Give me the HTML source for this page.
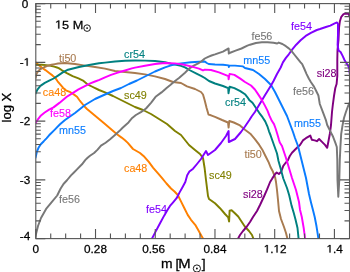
<!DOCTYPE html>
<html><head><meta charset="utf-8"><style>
html,body{margin:0;padding:0;background:#fff;width:350px;height:272px;overflow:hidden}
svg{display:block;will-change:transform;font-family:"Liberation Sans",sans-serif}
</style></head><body>
<svg width="350" height="272" viewBox="0 0 350 272">
<defs><clipPath id="c"><rect x="35.8" y="3.6" width="313.7" height="235.0"/></clipPath></defs>
<g clip-path="url(#c)">
<path d="M35.6,62.2 L38.3,64.8 L41.8,67.5 L45.4,70.1 L48.9,72.8 L52.4,75.4 L55.5,78.1 L57.6,81.3 L60.4,84.6 L63.2,87.9 L65.9,90.3 L69.7,91.8 L74.1,94.6 L77,96.8 L79.3,100 L81,102.2 L85,107 L87,109 L93,114 L99,119 L105,124 L112,130 L117,134.2 L121.6,137.6 L125,140.3 L127.8,142.9 L133,149 L140,153 L144.4,156.8 L148.8,161.9 L153.2,167.8 L157.6,172.9 L162.1,178.1 L166.5,183.5 L171,188.5 L174.5,191.5 L177.8,195 L181.1,201.6 L184.4,208.2 L187.7,214.9 L191,219.8 L195.2,224.8 L198.5,230.6 L201.8,236.4 L203.6,239.5" fill="none" stroke="#ff8000" stroke-width="1.95" stroke-linejoin="round" stroke-linecap="round"/>
<path d="M35.6,64.8 L41.8,64.8 L46.2,65.1 L50.7,65.7 L54.2,66.6 L57,67.5 L58.7,68.1 L62,70.3 L66.8,73.2 L72.6,76.2 L78.5,78.4 L83,80.6 L87.4,84.3 L91.8,86.5 L99,90 L105,92.4 L113,96 L121,100 L129,104 L135,107 L143,110 L151,114 L159,119 L167,124 L175,131 L181,135 L185,140 L189,145 L195,150 L200,154 L203,158 L204.6,168 L206,180 L208,196 L209,199 L215,203.3 L220,208.2 L225,214 L228.2,217.4 L229.1,221.5 L229.6,210.7 L231.6,210.2 L234.9,213.2 L238.2,216.5 L241.5,221.5 L244.8,226.5 L249,231 L252,235 L253.4,238.6" fill="none" stroke="#808000" stroke-width="1.95" stroke-linejoin="round" stroke-linecap="round"/>
<path d="M35.6,78 L36.5,73.7 L38.3,71 L41,68.8 L44.5,67 L48,65.7 L51.5,64.8 L55,64.1 L58,63.5 L65,63 L75,64 L85,65.6 L95,67 L105,68.6 L115,71 L125,72 L135,73 L145,74.4 L155,76.4 L165,79 L173,82 L181,83 L187,86.4 L195,89 L201,92 L203,94.5 L204.6,100 L206.6,108 L208.5,114.6 L211,115.3 L215,116.8 L222.1,120 L228,122.5 L228.6,127.6 L229.3,121 L233.8,122.5 L240,125.4 L245,129.8 L250.3,133.7 L254.7,138.8 L259.1,144.7 L262.8,150.6 L265.7,156.5 L268.7,162.4 L270.5,167 L273,171.8 L275.2,177.6 L276,182 L277,190 L278,200 L279,211 L281,219 L284,227 L286,233 L287.4,238.6" fill="none" stroke="#a87b50" stroke-width="1.95" stroke-linejoin="round" stroke-linecap="round"/>
<path d="M238,238.6 L240,235 L243,231 L246.5,227 L250,222 L253,217 L257,211 L260,205 L264.2,196 L267.1,189.4 L270.1,182 L272.3,178.4 L275.2,174 L276.7,172.5 L278.9,174 L281.1,171.8 L283.3,165.9 L285.5,163 L287.7,160.7 L289.8,156 L292,152.7 L294.7,150 L297.5,147.2 L300,145 L302.9,140.4 L305.9,138.2 L310.3,135.6 L311.8,139.7 L314.7,140.4 L316.9,141.2 L319.1,139 L322,141.9 L325,144.9 L327.2,147.8 L328.5,141 L329.8,134 L331,125 L332,112 L332.8,105 L334,96 L335.3,88 L336.6,84 L337.3,76 L337.3,60 L337.5,50 L338.5,40 L339.1,27 L339.9,21.2 L341.3,16.8 L343.5,14.1 L345.7,13.5 L348.5,13.9 L350,17" fill="none" stroke="#800080" stroke-width="1.95" stroke-linejoin="round" stroke-linecap="round"/>
<path d="M35.6,93.5 L37.4,89.6 L40.4,85.9 L44.8,82.9 L49.2,80.7 L53.6,78.5 L58,75.6 L62.4,72.6 L68,69.7 L79,67 L89,65 L99,63.3 L105,62.6 L115,61.5 L125,60.8 L135,60.5 L145,60.6 L155,61.0 L165,62.3 L171,63.8 L175,64.6 L181,65.8 L185,67.3 L189.4,70 L196,73.4 L201.5,76.1 L204.8,78 L209,81 L215,83.5 L223,86 L228.2,88.1 L228.5,93.3 L229.6,86.7 L234.4,88.1 L240.3,91.1 L245,94.2 L247.5,97.3 L249.2,99.9 L252.5,102.8 L255.5,107.2 L259.2,112.8 L262.5,117.2 L265.2,121.4 L267.4,126.3 L269,131.3 L270.7,135.7 L272.9,142 L274.5,146.5 L277,153.5 L278.5,161 L280.5,168 L283.3,178.5 L287,188 L289.2,195.3 L291.5,205.4 L293.7,212.7 L295.5,219.5 L297.5,228 L298.6,238.6" fill="none" stroke="#008080" stroke-width="1.95" stroke-linejoin="round" stroke-linecap="round"/>
<path d="M35.5,157.8 L37,151.4 L38.5,147.8 L40.8,144.2 L43.8,141.2 L46.5,138.3 L49.1,135.3 L54.3,130.1 L60,124.3 L65,120 L75,113 L85,105 L95,99 L105,94.5 L113,91 L121,88 L129,84 L137,80.5 L145,76.5 L155,71.5 L165,67.4 L170.3,65.6 L175,64.3 L183,63.1 L191,62.2 L199,61.8 L204.8,61.5 L206.8,63 L208.7,64 L215,64.5 L223,64.8 L228.6,65.4 L228.8,67 L229.5,65.6 L235,65.6 L243,66.4 L245,68 L253,70 L259,74 L265,79 L271,85 L275,92 L279,100 L283,108 L287,116 L290,124 L293,132 L295,138 L298,146 L300,154 L302,162 L304,170 L306,178 L307.5,186 L309,194 L311,202.4 L312.9,209.7 L314.7,217 L316.5,226.3 L317.5,232.7 L318.4,238.6" fill="none" stroke="#0a7cff" stroke-width="1.95" stroke-linejoin="round" stroke-linecap="round"/>
<path d="M151.5,239.5 L155.6,231.6 L159.9,223.5 L164.3,215.4 L167.3,210.3 L170,205.9 L172.9,202.6 L176.6,198.2 L179.6,192.4 L182.5,187.2 L185.3,182 L187.2,175.3 L189.4,171.6 L193.1,168.7 L197,164 L201,159 L206,151 L208,155 L215,150 L221,143 L226,136 L228.6,131 L228.8,142 L235,139 L241,132 L245,126.5 L249.4,120 L251.6,116.5 L254.9,112 L258.2,106.5 L261.5,101 L264.8,95.5 L268.2,90 L271,85.5 L273.5,81 L277,74 L280.7,67.5 L282.9,62.4 L285.9,57.9 L288.8,54.3 L292.5,49.1 L296.2,44.7 L300.6,40.3 L305.7,35.9 L310.9,32.9 L316.8,30 L320,29 L325.9,27 L330.3,25.6 L334.7,23.4 L337,22.4 L338,24 L338,34.4 L337.6,45 L337.9,46.6 L338.6,50.6 L340.6,52 L342.6,55.9 L344.5,60 L346.5,63.2 L347.9,65.2 L349.2,67.8 L349.6,73" fill="none" stroke="#8000ff" stroke-width="1.95" stroke-linejoin="round" stroke-linecap="round"/>
<path d="M35,238.4 L36,234 L38,226 L41,218 L46.1,208.9 L51.7,202.2 L57.2,195.5 L60.5,188.8 L63.5,184 L67.2,180 L71,175.4 L74.2,172.2 L76.5,169.8 L82,164.3 L85.4,159.9 L87.6,157.7 L90,155.7 L94.1,153 L97.6,149.6 L101,145.6 L105.6,142.7 L110.1,139.2 L114.7,135.2 L119.3,131.1 L122.6,127.7 L128.5,122.4 L132.2,117.9 L135.9,115 L140.9,112.2 L146,108.5 L151.2,102.6 L155.6,96.8 L161.5,92.4 L166.6,87.9 L170.3,85 L175,81 L179,78 L185,72.8 L189.4,68.4 L193.8,65.6 L198.2,63.4 L201.5,61.2 L204.8,58.5 L208.2,56.8 L211.5,55.5 L215,54.4 L223,51.6 L228.6,48.4 L228.8,53.6 L229.5,53 L235.6,50.7 L241.5,48.5 L247.4,45.6 L250,44.7 L255.9,43 L261.8,42.3 L267.6,42.2 L273.5,42.8 L277.2,43.5 L278.7,42.6 L282.4,44 L285.9,46.2 L288.8,48.4 L291.8,51.3 L294.7,55 L297.6,58.7 L300.6,62.4 L302.2,64.2 L304.4,69 L306.6,74.1 L308.8,78.5 L311,82.2 L314,86.6 L316.2,91 L318.4,95.5 L319.8,104 L322.8,111.8 L325.8,119.8 L327.2,125 L330.1,130.9 L333.1,136.8 L335.3,142.6 L336.8,147 L337.3,160 L337.5,180 L338.3,196.8 L339.3,180 L339.8,160 L340.4,147 L341.2,133.8 L342.6,125 L344,118 L345.9,112 L347.9,106.5 L349.5,103" fill="none" stroke="#787878" stroke-width="1.95" stroke-linejoin="round" stroke-linecap="round"/>
<path d="M35.5,123.2 L38.1,119.1 L41,115.4 L44.7,112.5 L49.1,109.6 L53.5,107.4 L59.4,102.9 L66.8,96.8 L72.6,93.1 L78.5,89.4 L84.4,86.3 L90.3,83.3 L95,81.5 L99.4,79.9 L105,77.3 L111,74.9 L117,72.8 L125,70.5 L131.8,68.4 L135,67.6 L145,65.7 L155,64 L165,63 L175,63.4 L183,64.5 L191,66.4 L199,68.6 L203,70.4 L205,69.6 L211,70 L219,72.4 L228.4,76.2 L228.6,79.3 L229.6,73.9 L234.4,74.9 L240.3,78.6 L245,82 L251,85.5 L254.9,89.5 L258.2,94.4 L261.5,99.4 L264.8,105.4 L267.6,110.9 L269.3,115.4 L271.8,120.8 L274,124.1 L275.6,128.5 L277.3,134 L278.9,139.6 L279.8,142.5 L282,146 L286,158 L289,168 L292,178 L294,184 L296,190 L299,202 L300,209.7 L301.8,217 L303.7,228 L305.1,238.6" fill="none" stroke="#ff00ff" stroke-width="1.95" stroke-linejoin="round" stroke-linecap="round"/>
</g>
<rect x="35.8" y="3.6" width="313.7" height="235.0" fill="none" stroke="#555" stroke-width="1.1"/>
<path d="M35.80 238.6V229.1M35.80 3.6V13.1" stroke="#555" stroke-width="1.1"/>
<path d="M50.73 238.6V233.6M50.73 3.6V8.6" stroke="#555" stroke-width="1.1"/>
<path d="M65.66 238.6V233.6M65.66 3.6V8.6" stroke="#555" stroke-width="1.1"/>
<path d="M80.59 238.6V233.6M80.59 3.6V8.6" stroke="#555" stroke-width="1.1"/>
<path d="M95.52 238.6V229.1M95.52 3.6V13.1" stroke="#555" stroke-width="1.1"/>
<path d="M110.46 238.6V233.6M110.46 3.6V8.6" stroke="#555" stroke-width="1.1"/>
<path d="M125.39 238.6V233.6M125.39 3.6V8.6" stroke="#555" stroke-width="1.1"/>
<path d="M140.32 238.6V233.6M140.32 3.6V8.6" stroke="#555" stroke-width="1.1"/>
<path d="M155.25 238.6V229.1M155.25 3.6V13.1" stroke="#555" stroke-width="1.1"/>
<path d="M170.18 238.6V233.6M170.18 3.6V8.6" stroke="#555" stroke-width="1.1"/>
<path d="M185.11 238.6V233.6M185.11 3.6V8.6" stroke="#555" stroke-width="1.1"/>
<path d="M200.04 238.6V233.6M200.04 3.6V8.6" stroke="#555" stroke-width="1.1"/>
<path d="M214.97 238.6V229.1M214.97 3.6V13.1" stroke="#555" stroke-width="1.1"/>
<path d="M229.90 238.6V233.6M229.90 3.6V8.6" stroke="#555" stroke-width="1.1"/>
<path d="M244.83 238.6V233.6M244.83 3.6V8.6" stroke="#555" stroke-width="1.1"/>
<path d="M259.77 238.6V233.6M259.77 3.6V8.6" stroke="#555" stroke-width="1.1"/>
<path d="M274.70 238.6V229.1M274.70 3.6V13.1" stroke="#555" stroke-width="1.1"/>
<path d="M289.63 238.6V233.6M289.63 3.6V8.6" stroke="#555" stroke-width="1.1"/>
<path d="M304.56 238.6V233.6M304.56 3.6V8.6" stroke="#555" stroke-width="1.1"/>
<path d="M319.49 238.6V233.6M319.49 3.6V8.6" stroke="#555" stroke-width="1.1"/>
<path d="M334.42 238.6V229.1M334.42 3.6V13.1" stroke="#555" stroke-width="1.1"/>
<path d="M35.8 238.60H45.3M349.5 238.60H340.0" stroke="#555" stroke-width="1.1"/>
<path d="M35.8 220.91H40.8M349.5 220.91H344.5" stroke="#555" stroke-width="1.1"/>
<path d="M35.8 210.57H40.8M349.5 210.57H344.5" stroke="#555" stroke-width="1.1"/>
<path d="M35.8 203.23H40.8M349.5 203.23H344.5" stroke="#555" stroke-width="1.1"/>
<path d="M35.8 197.54H40.8M349.5 197.54H344.5" stroke="#555" stroke-width="1.1"/>
<path d="M35.8 192.88H40.8M349.5 192.88H344.5" stroke="#555" stroke-width="1.1"/>
<path d="M35.8 188.95H40.8M349.5 188.95H344.5" stroke="#555" stroke-width="1.1"/>
<path d="M35.8 185.54H40.8M349.5 185.54H344.5" stroke="#555" stroke-width="1.1"/>
<path d="M35.8 182.54H40.8M349.5 182.54H344.5" stroke="#555" stroke-width="1.1"/>
<path d="M35.8 179.85H45.3M349.5 179.85H340.0" stroke="#555" stroke-width="1.1"/>
<path d="M35.8 162.16H40.8M349.5 162.16H344.5" stroke="#555" stroke-width="1.1"/>
<path d="M35.8 151.82H40.8M349.5 151.82H344.5" stroke="#555" stroke-width="1.1"/>
<path d="M35.8 144.48H40.8M349.5 144.48H344.5" stroke="#555" stroke-width="1.1"/>
<path d="M35.8 138.79H40.8M349.5 138.79H344.5" stroke="#555" stroke-width="1.1"/>
<path d="M35.8 134.13H40.8M349.5 134.13H344.5" stroke="#555" stroke-width="1.1"/>
<path d="M35.8 130.20H40.8M349.5 130.20H344.5" stroke="#555" stroke-width="1.1"/>
<path d="M35.8 126.79H40.8M349.5 126.79H344.5" stroke="#555" stroke-width="1.1"/>
<path d="M35.8 123.79H40.8M349.5 123.79H344.5" stroke="#555" stroke-width="1.1"/>
<path d="M35.8 121.10H45.3M349.5 121.10H340.0" stroke="#555" stroke-width="1.1"/>
<path d="M35.8 103.41H40.8M349.5 103.41H344.5" stroke="#555" stroke-width="1.1"/>
<path d="M35.8 93.07H40.8M349.5 93.07H344.5" stroke="#555" stroke-width="1.1"/>
<path d="M35.8 85.73H40.8M349.5 85.73H344.5" stroke="#555" stroke-width="1.1"/>
<path d="M35.8 80.04H40.8M349.5 80.04H344.5" stroke="#555" stroke-width="1.1"/>
<path d="M35.8 75.38H40.8M349.5 75.38H344.5" stroke="#555" stroke-width="1.1"/>
<path d="M35.8 71.45H40.8M349.5 71.45H344.5" stroke="#555" stroke-width="1.1"/>
<path d="M35.8 68.04H40.8M349.5 68.04H344.5" stroke="#555" stroke-width="1.1"/>
<path d="M35.8 65.04H40.8M349.5 65.04H344.5" stroke="#555" stroke-width="1.1"/>
<path d="M35.8 62.35H45.3M349.5 62.35H340.0" stroke="#555" stroke-width="1.1"/>
<path d="M35.8 44.66H40.8M349.5 44.66H344.5" stroke="#555" stroke-width="1.1"/>
<path d="M35.8 34.32H40.8M349.5 34.32H344.5" stroke="#555" stroke-width="1.1"/>
<path d="M35.8 26.98H40.8M349.5 26.98H344.5" stroke="#555" stroke-width="1.1"/>
<path d="M35.8 21.29H40.8M349.5 21.29H344.5" stroke="#555" stroke-width="1.1"/>
<path d="M35.8 16.63H40.8M349.5 16.63H344.5" stroke="#555" stroke-width="1.1"/>
<path d="M35.8 12.70H40.8M349.5 12.70H344.5" stroke="#555" stroke-width="1.1"/>
<path d="M35.8 9.29H40.8M349.5 9.29H344.5" stroke="#555" stroke-width="1.1"/>
<path d="M35.8 6.29H40.8M349.5 6.29H344.5" stroke="#555" stroke-width="1.1"/>
<path d="M35.8 3.60H45.3M349.5 3.60H340.0" stroke="#555" stroke-width="1.1"/>
<text transform="translate(30.2,240.2) scale(1.09,1)" font-size="10.8" text-anchor="end" fill="#000" stroke="#000" stroke-width="0.25">-4</text>
<text transform="translate(30.2,183.75) scale(1.09,1)" font-size="10.8" text-anchor="end" fill="#000" stroke="#000" stroke-width="0.25">-3</text>
<text transform="translate(30.2,124.55) scale(1.09,1)" font-size="10.8" text-anchor="end" fill="#000" stroke="#000" stroke-width="0.25">-2</text>
<g transform="translate(30.2,65.65) scale(1.09,1)"><text x="-9.603" y="0" font-size="10.8" fill="#000" stroke="#000" stroke-width="0.25">-</text><path transform="translate(-6.006,0) scale(0.005273,-0.005273)" d="M515 0V1237L197 1010V1180L530 1409H696V0Z" fill="#000" stroke="#000" stroke-width="47.4"/></g>
<text transform="translate(28.2,8.2) scale(1.09,1)" font-size="10.8" text-anchor="end" fill="#000" stroke="#000" stroke-width="0.25">0</text>
<text transform="translate(35.8,252.5) scale(1.09,1)" font-size="10.8" text-anchor="middle" fill="#000" stroke="#000" stroke-width="0.25">0</text>
<text transform="translate(95.5,252.5) scale(1.09,1)" font-size="10.8" text-anchor="middle" fill="#000" stroke="#000" stroke-width="0.25">0.28</text>
<text transform="translate(153.6,252.5) scale(1.09,1)" font-size="10.8" text-anchor="middle" fill="#000" stroke="#000" stroke-width="0.25">0.56</text>
<text transform="translate(215.0,252.5) scale(1.09,1)" font-size="10.8" text-anchor="middle" fill="#000" stroke="#000" stroke-width="0.25">0.84</text>
<g transform="translate(275.2,252.5) scale(1.09,1)"><path transform="translate(-10.510,0) scale(0.005273,-0.005273)" d="M515 0V1237L197 1010V1180L530 1409H696V0Z" fill="#000" stroke="#000" stroke-width="47.4"/><text x="-4.504" y="0" font-size="10.8" fill="#000" stroke="#000" stroke-width="0.25">.</text><path transform="translate(-1.503,0) scale(0.005273,-0.005273)" d="M515 0V1237L197 1010V1180L530 1409H696V0Z" fill="#000" stroke="#000" stroke-width="47.4"/><text x="4.504" y="0" font-size="10.8" fill="#000" stroke="#000" stroke-width="0.25">2</text></g>
<g transform="translate(334.7,252.5) scale(1.09,1)"><path transform="translate(-7.507,0) scale(0.005273,-0.005273)" d="M515 0V1237L197 1010V1180L530 1409H696V0Z" fill="#000" stroke="#000" stroke-width="47.4"/><text x="-1.500" y="0" font-size="10.8" fill="#000" stroke="#000" stroke-width="0.25">.4</text></g>
<text transform="translate(59,62) scale(0.98,1)" font-size="11" text-anchor="start" fill="#a87b50" stroke="#a87b50" stroke-width="0.12">ti50</text>
<text transform="translate(124,58.4) scale(0.98,1)" font-size="11" text-anchor="start" fill="#008080" stroke="#008080" stroke-width="0.12">cr54</text>
<text transform="translate(243.3,64.4) scale(0.98,1)" font-size="11" text-anchor="start" fill="#0a7cff" stroke="#0a7cff" stroke-width="0.12">mn55</text>
<text transform="translate(251.4,40) scale(0.98,1)" font-size="11" text-anchor="start" fill="#787878" stroke="#787878" stroke-width="0.12">fe56</text>
<text transform="translate(291,30.4) scale(0.98,1)" font-size="11" text-anchor="start" fill="#8000ff" stroke="#8000ff" stroke-width="0.12">fe54</text>
<text transform="translate(316.8,76.8) scale(0.98,1)" font-size="11" text-anchor="start" fill="#800080" stroke="#800080" stroke-width="0.12">si28</text>
<text transform="translate(293,95) scale(0.98,1)" font-size="11" text-anchor="start" fill="#787878" stroke="#787878" stroke-width="0.12">fe56</text>
<text transform="translate(225,106) scale(0.98,1)" font-size="11" text-anchor="start" fill="#008080" stroke="#008080" stroke-width="0.12">cr54</text>
<text transform="translate(294,127) scale(0.98,1)" font-size="11" text-anchor="start" fill="#0a7cff" stroke="#0a7cff" stroke-width="0.12">mn55</text>
<text transform="translate(42.8,96.3) scale(0.98,1)" font-size="11" text-anchor="start" fill="#ff8000" stroke="#ff8000" stroke-width="0.12">ca48</text>
<text transform="translate(50,116.5) scale(0.98,1)" font-size="11" text-anchor="start" fill="#ff00ff" stroke="#ff00ff" stroke-width="0.12">fe58</text>
<text transform="translate(59,133.6) scale(0.98,1)" font-size="11" text-anchor="start" fill="#0a7cff" stroke="#0a7cff" stroke-width="0.12">mn55</text>
<text transform="translate(124,99) scale(0.98,1)" font-size="11" text-anchor="start" fill="#808000" stroke="#808000" stroke-width="0.12">sc49</text>
<text transform="translate(244.4,158) scale(0.98,1)" font-size="11" text-anchor="start" fill="#a87b50" stroke="#a87b50" stroke-width="0.12">ti50</text>
<text transform="translate(124,172) scale(0.98,1)" font-size="11" text-anchor="start" fill="#ff8000" stroke="#ff8000" stroke-width="0.12">ca48</text>
<text transform="translate(209,179) scale(0.98,1)" font-size="11" text-anchor="start" fill="#808000" stroke="#808000" stroke-width="0.12">sc49</text>
<text transform="translate(243,198.4) scale(0.98,1)" font-size="11" text-anchor="start" fill="#800080" stroke="#800080" stroke-width="0.12">si28</text>
<text transform="translate(59,203) scale(0.98,1)" font-size="11" text-anchor="start" fill="#787878" stroke="#787878" stroke-width="0.12">fe56</text>
<text transform="translate(146,213) scale(0.98,1)" font-size="11" text-anchor="start" fill="#8000ff" stroke="#8000ff" stroke-width="0.12">fe54</text>
<g transform="translate(55.0,28.6) scale(1.08,1)"><path transform="translate(0.000,0) scale(0.005762,-0.005762)" d="M515 0V1237L197 1010V1180L530 1409H696V0Z" fill="#000" stroke="#000" stroke-width="43.4"/><text x="6.563" y="0" font-size="11.8" fill="#000" stroke="#000" stroke-width="0.25">5 M</text></g>
<circle cx="87.1" cy="28.1" r="3.3" fill="none" stroke="#000" stroke-width="0.9"/><circle cx="87.1" cy="28.1" r="0.9" fill="#000"/>
<text transform="translate(11.0,122.5) rotate(-90) scale(1.09,1)" font-size="12" text-anchor="start" fill="#000" stroke="#000" stroke-width="0.25">log X</text>
<text transform="translate(161.0,267.9) scale(1.13,1)" font-size="12.3" text-anchor="start" fill="#000" stroke="#000" stroke-width="0.25">m</text>
<text transform="translate(175.6,267.9) scale(1.13,1)" font-size="12.3" text-anchor="start" fill="#000" stroke="#000" stroke-width="0.25">[</text>
<text transform="translate(178.3,267.9) scale(1.21,1)" font-size="12.3" text-anchor="start" fill="#000" stroke="#000" stroke-width="0.25">M</text>
<circle cx="196.9" cy="268.5" r="3.6" fill="none" stroke="#000" stroke-width="0.9"/><circle cx="196.9" cy="268.5" r="0.9" fill="#000"/>
<text transform="translate(201.7,267.9) scale(1.13,1)" font-size="12.3" text-anchor="start" fill="#000" stroke="#000" stroke-width="0.25">]</text>
</svg>
</body></html>
